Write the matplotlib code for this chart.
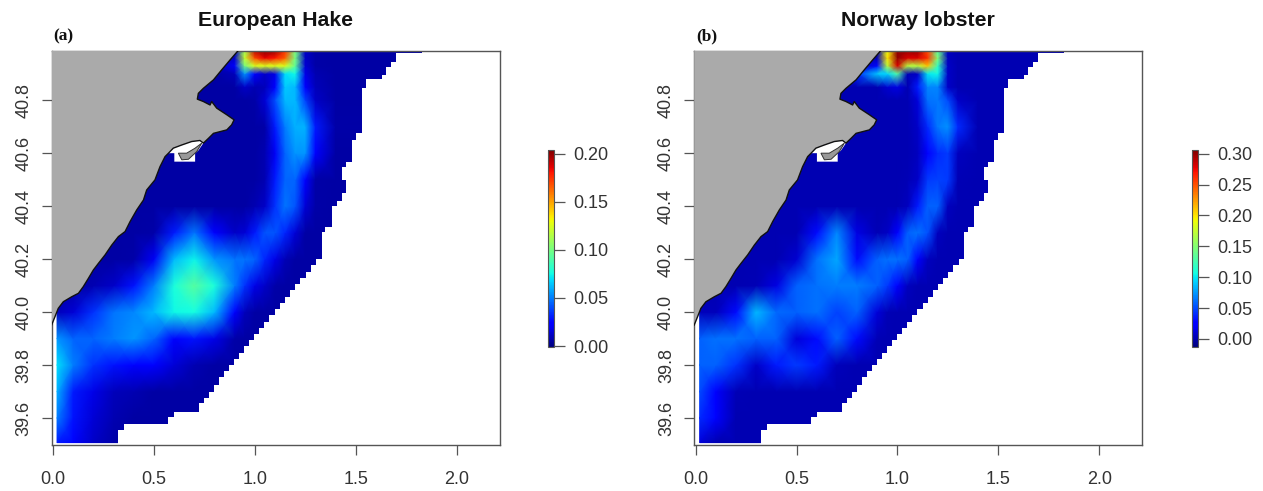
import numpy as np
import matplotlib
matplotlib.use("Agg")
import matplotlib.pyplot as plt

plt.rcParams['font.family'] = ['Liberation Sans', 'DejaVu Sans']

# grid nodes (longitude, latitude)
lon_nodes = [0.02, 0.1, 0.2, 0.3, 0.4, 0.5, 0.6, 0.7, 0.8, 0.9, 0.95, 1.0, 1.05, 1.1, 1.15, 1.2, 1.25, 1.3, 1.4, 1.9]
lat_nodes = [39.507, 39.6, 39.7, 39.8, 39.9, 40.0, 40.1, 40.2, 40.3, 40.4, 40.5, 40.6, 40.7, 40.8, 40.85, 40.9, 40.93, 40.96, 40.99]

# values in thousandths, south to north
hake = [
    [30, 25, 12, 7, 6, 6, 6, 6, 6, 6, 6, 6, 6, 6, 6, 6, 6, 6, 6, 6],
    [50, 28, 15, 8, 6, 6, 6, 6, 6, 6, 6, 6, 6, 6, 6, 6, 6, 6, 6, 6],
    [60, 30, 18, 10, 8, 6, 6, 6, 6, 6, 6, 6, 6, 6, 6, 6, 6, 6, 6, 6],
    [70, 50, 35, 28, 25, 22, 15, 8, 6, 6, 6, 6, 6, 6, 6, 6, 6, 6, 6, 6],
    [55, 45, 45, 50, 55, 45, 25, 28, 18, 7, 6, 6, 6, 6, 6, 6, 6, 6, 6, 6],
    [10, 15, 35, 48, 52, 62, 75, 76, 62, 22, 10, 6, 6, 6, 6, 6, 6, 6, 6, 6],
    [6, 6, 8, 12, 28, 50, 78, 92, 78, 50, 35, 18, 12, 7, 6, 6, 6, 6, 6, 6],
    [6, 6, 6, 6, 7, 20, 62, 74, 55, 48, 48, 45, 32, 18, 9, 6, 6, 6, 6, 6],
    [6, 6, 6, 6, 6, 7, 30, 48, 22, 12, 15, 30, 42, 42, 32, 15, 6, 6, 6, 6],
    [6, 6, 6, 6, 6, 6, 6, 6, 6, 6, 6, 8, 12, 35, 48, 42, 15, 7, 6, 6],
    [6, 6, 6, 6, 6, 6, 6, 6, 6, 6, 6, 6, 8, 30, 45, 45, 22, 7, 6, 6],
    [6, 6, 6, 6, 6, 6, 6, 6, 6, 6, 6, 6, 8, 20, 45, 55, 55, 25, 6, 6],
    [6, 6, 6, 6, 6, 6, 6, 6, 6, 6, 6, 6, 7, 30, 50, 60, 60, 30, 7, 6],
    [6, 6, 6, 6, 6, 6, 6, 6, 6, 6, 6, 7, 15, 40, 62, 62, 38, 12, 6, 6],
    [6, 6, 6, 6, 6, 6, 6, 6, 6, 6, 12, 8, 10, 25, 65, 62, 25, 10, 6, 6],
    [6, 6, 6, 6, 6, 6, 6, 6, 6, 10, 55, 22, 12, 18, 70, 75, 18, 8, 6, 6],
    [6, 6, 6, 6, 6, 6, 6, 6, 6, 25, 100, 125, 125, 125, 125, 95, 15, 7, 6, 6],
    [6, 6, 6, 6, 6, 6, 6, 6, 6, 12, 120, 170, 185, 180, 165, 100, 12, 7, 6, 6],
    [6, 6, 6, 6, 6, 6, 6, 6, 6, 12, 110, 195, 205, 200, 175, 100, 12, 7, 6, 6],
]

lobster = [
    [12, 1, 1, 1, 1, 1, 1, 1, 1, 1, 1, 1, 1, 1, 1, 1, 1, 1, 1, 1],
    [40, 28, 1, 1, 1, 1, 1, 1, 1, 1, 1, 1, 1, 1, 1, 1, 1, 1, 1, 1],
    [50, 25, 2, 1, 1, 1, 1, 1, 1, 1, 1, 1, 1, 1, 1, 1, 1, 1, 1, 1],
    [58, 58, 42, 8, 35, 45, 35, 4, 1, 1, 1, 1, 1, 1, 1, 1, 1, 1, 1, 1],
    [58, 62, 62, 58, 58, 12, 30, 58, 30, 2, 1, 1, 1, 1, 1, 1, 1, 1, 1, 1],
    [4, 4, 30, 85, 60, 58, 62, 48, 58, 12, 3, 1, 1, 1, 1, 1, 1, 1, 1, 1],
    [1, 1, 1, 2, 15, 58, 62, 66, 66, 58, 45, 22, 5, 1, 1, 1, 1, 1, 1, 1],
    [1, 1, 1, 1, 1, 10, 62, 80, 30, 58, 62, 62, 58, 28, 5, 1, 1, 1, 1, 1],
    [1, 1, 1, 1, 1, 1, 30, 70, 15, 3, 6, 22, 58, 62, 52, 5, 1, 1, 1, 1],
    [1, 1, 1, 1, 1, 1, 1, 1, 1, 1, 1, 1, 5, 35, 58, 58, 5, 1, 1, 1],
    [1, 1, 1, 1, 1, 1, 1, 1, 1, 1, 1, 1, 2, 8, 45, 48, 45, 2, 1, 1],
    [1, 1, 1, 1, 1, 1, 1, 1, 1, 1, 1, 1, 1, 5, 25, 40, 45, 5, 1, 1],
    [1, 1, 1, 1, 1, 1, 1, 1, 1, 1, 1, 1, 1, 8, 40, 65, 72, 40, 1, 1],
    [1, 1, 1, 1, 1, 1, 1, 1, 1, 1, 1, 1, 1, 12, 62, 65, 50, 8, 1, 1],
    [1, 1, 1, 1, 1, 1, 1, 1, 1, 1, 10, 15, 1, 35, 68, 68, 8, 1, 1, 1],
    [1, 1, 1, 1, 1, 1, 1, 1, 40, 90, 95, 130, 3, 8, 100, 105, 8, 1, 1, 1],
    [1, 1, 1, 1, 1, 1, 1, 1, 1, 30, 170, 280, 170, 170, 210, 120, 8, 1, 1, 1],
    [1, 1, 1, 1, 1, 1, 1, 1, 1, 1, 200, 300, 280, 280, 260, 150, 5, 1, 1, 1],
    [1, 1, 1, 1, 1, 1, 1, 1, 1, 1, 190, 300, 300, 300, 250, 130, 5, 1, 1, 1],
]

# offshore limit of the model grid
edge_lat = [39.49, 39.554, 39.576, 39.605, 39.624, 39.655, 39.674, 39.699, 39.724, 39.753,
            39.776, 39.800, 39.823, 39.847, 39.870, 39.894, 39.917, 39.941, 39.964, 39.988,
            40.011, 40.035, 40.058, 40.082, 40.105, 40.129, 40.152, 40.176, 40.200, 40.301,
            40.320, 40.402, 40.421, 40.451, 40.499, 40.549, 40.568, 40.650, 40.678, 40.845,
            40.879, 40.896, 40.927, 40.946, 40.978, 40.99]
edge_lon = [0.324, 0.353, 0.572, 0.601, 0.723, 0.748, 0.773, 0.798, 0.823, 0.847,
            0.872, 0.897, 0.922, 0.948, 0.973, 0.998, 1.022, 1.047, 1.072, 1.098,
            1.125, 1.150, 1.174, 1.200, 1.224, 1.252, 1.277, 1.303, 1.331, 1.348,
            1.381, 1.406, 1.430, 1.450, 1.430, 1.450, 1.480, 1.500, 1.530, 1.549,
            1.629, 1.648, 1.673, 1.698, 1.827, 1.827]

coast_lon = [-0.007, 0.010, 0.026, 0.051, 0.093, 0.126, 0.150, 0.175, 0.200, 0.225, 0.258, 0.291,
             0.324, 0.357, 0.382, 0.415, 0.448, 0.464, 0.505, 0.530, 0.555, 0.572, 0.596, 0.638,
             0.687, 0.728, 0.745, 0.770, 0.795, 0.861, 0.885, 0.897, 0.861, 0.811, 0.786, 0.778,
             0.745, 0.715, 0.720, 0.745, 0.795, 0.836, 0.877, 0.918]
coast_lat = [39.951, 39.983, 40.014, 40.039, 40.058, 40.071, 40.096, 40.127, 40.159, 40.184, 40.216, 40.253,
             40.285, 40.304, 40.342, 40.386, 40.423, 40.461, 40.499, 40.549, 40.587, 40.600, 40.619, 40.631,
             40.644, 40.648, 40.638, 40.656, 40.675, 40.688, 40.707, 40.726, 40.745, 40.770, 40.795, 40.782,
             40.795, 40.804, 40.826, 40.845, 40.877, 40.915, 40.952, 40.988]

delta_lon = [0.572, 0.596, 0.638, 0.687, 0.728, 0.745, 0.720, 0.704, 0.704, 0.601, 0.601]
delta_lat = [40.600, 40.619, 40.631, 40.644, 40.648, 40.638, 40.610, 40.600, 40.568, 40.568, 40.600]
spit_lon = [0.621, 0.662, 0.704, 0.737, 0.712, 0.671, 0.638]
spit_lat = [40.600, 40.600, 40.619, 40.638, 40.606, 40.577, 40.575]

panels = [
    ("European Hake", "(a)", hake, [0, 0.05, 0.10, 0.15, 0.20], -0.001, 0.204, 51.7, 548),
    ("Norway lobster", "(b)", lobster, [0, 0.05, 0.10, 0.15, 0.20, 0.25, 0.30], -0.013, 0.306, 694.3, 1192),
]

W, H = 1263, 491
fig = plt.figure(figsize=(W / 100, H / 100), dpi=100)
edge_grey = '#555555'
text_grey = '#333333'

for title, tag, vals, cticks, vmin, vmax, left, cleft in panels:
    ax = fig.add_axes([left / W, 1 - 445 / H, 448 / W, 394.3 / H])
    mesh = ax.pcolormesh(lon_nodes, lat_nodes, np.array(vals) / 1000, shading='gouraud',
                         cmap='jet', vmin=vmin, vmax=vmax, zorder=1)
    ax.fill_betweenx(edge_lat, edge_lon, 2.3, step='post', color='white', lw=0, zorder=2)
    ax.fill(coast_lon + [-0.007], coast_lat + [40.988], color='#aaaaaa', lw=0, zorder=3)
    ax.fill(delta_lon, delta_lat, color='white', lw=0, zorder=4)
    ax.fill(spit_lon, spit_lat, facecolor='#999999', edgecolor='#333333', lw=0.7, zorder=5)
    ax.plot(coast_lon, coast_lat, color='#111111', lw=1.0, zorder=6)
    ax.set_xlim(-0.0065, 2.213)
    ax.set_ylim(39.498, 40.987)
    ax.set_xticks([0, 0.5, 1.0, 1.5, 2.0])
    ax.set_xticklabels(['0.0', '0.5', '1.0', '1.5', '2.0'])
    ax.set_yticks([39.6, 39.8, 40.0, 40.2, 40.4, 40.6, 40.8])
    ax.set_yticklabels(['39.6', '39.8', '40.0', '40.2', '40.4', '40.6', '40.8'],
                       rotation=90, va='center')
    ax.tick_params(axis='both', length=7, width=0.9, color=edge_grey, labelcolor=text_grey, labelsize=13)
    ax.tick_params(axis='x', pad=12)
    ax.tick_params(axis='y', pad=7)
    for s in ax.spines.values():
        s.set_color(edge_grey)
        s.set_linewidth(1.0)
    fig.text((left + 224) / W, 1 - 20.5 / H, title, fontsize=15.3, fontweight='bold',
             ha='center', va='center', color='#111111')
    fig.text((left + 1.5) / W, 1 - 36 / H, tag, fontsize=12.5, fontweight='bold',
             family='Liberation Serif', ha='left', va='center', color='#111111')

    cax = fig.add_axes([cleft / W, 1 - 347 / H, 6 / W, 197 / H])
    cb = fig.colorbar(mesh, cax=cax, ticks=cticks)
    cb.ax.set_yticklabels(['%.2f' % t for t in cticks])
    cb.ax.tick_params(length=8, width=0.9, color=edge_grey, labelcolor=text_grey, labelsize=13, pad=6)
    cb.outline.set_edgecolor(edge_grey)
    cb.outline.set_linewidth(0.8)

fig.savefig('out.png', dpi=100)
